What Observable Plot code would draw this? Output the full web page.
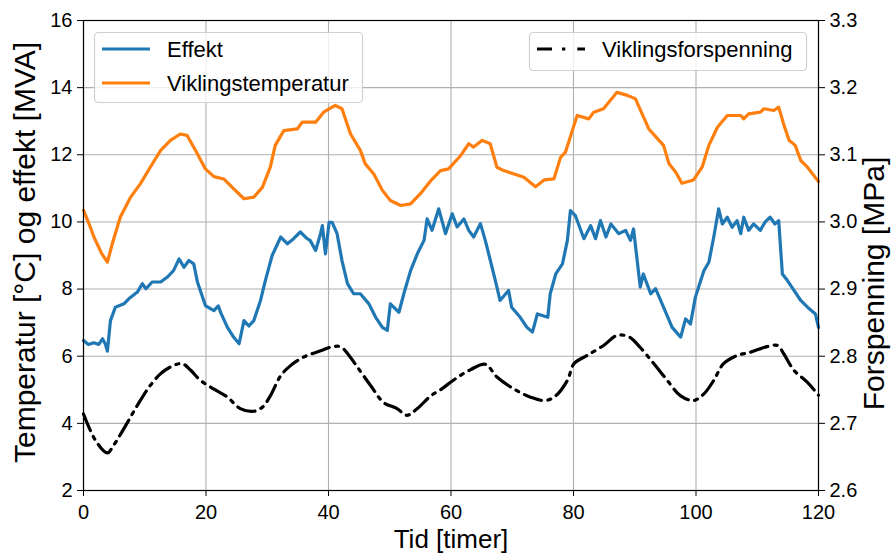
<!DOCTYPE html>
<html>
<head>
<meta charset="utf-8">
<script src="https://cdn.jsdelivr.net/npm/d3@7"></script>
<script src="https://cdn.jsdelivr.net/npm/@observablehq/plot@0.6"></script>
<style>
  html, body { margin: 0; padding: 0; background: #fff; }
  svg { display: block; }
</style>
</head>
<body>
<div id="chart"></div>
<script>
// ---------- data ----------
const seriesNames = ["Effekt", "Viklingstemperatur", "Viklingsforspenning"];
const seriesColors = ["#1f77b4", "#ff7f0e", "#000000"];

const xTicks = [0, 20, 40, 60, 80, 100, 120];
const yTicksLeft = [2, 4, 6, 8, 10, 12, 14, 16];
const yTicksRight = [2.6, 2.7, 2.8, 2.9, 3.0, 3.1, 3.2, 3.3];

const xLabel = "Tid [timer]";
const yLabelLeft = "Temperatur [°C] og effekt [MVA]";
const yLabelRight = "Forspenning [MPa]";

const effektHours = [0,0.8,1.7,2.5,3.1,3.6,3.9,4.4,5.2,6.6,7.4,8.8,9.6,10.2,11.2,12.6,13.7,14.7,15.6,16.4,17.2,18.0,18.6,19.9,21.3,22.0,22.4,23.5,24.5,25.4,26.2,27.0,27.8,28.9,29.7,30.8,32.2,33.3,34.3,35.4,36.5,37.0,37.6,37.9,38.7,39.0,39.5,40.1,40.6,41.4,42.2,43.1,44.1,45.2,46.6,47.7,48.8,49.6,50.1,51.5,52.3,53.4,54.5,55.6,56.1,56.9,58.0,59.1,60.2,61.0,62.1,62.9,63.7,64.8,65.6,66.7,67.5,68.0,69.4,69.9,71.3,72.4,73.3,74.1,75.8,76.2,77.1,78.2,79.0,79.5,80.3,81.7,82.8,83.6,84.4,85.3,86.1,87.4,88.5,89.3,89.8,90.9,91.4,92.6,93.4,94.7,96.1,97.5,98.3,99.1,99.9,101.3,102.1,102.9,103.7,104.3,105.1,105.9,106.7,107.3,107.8,108.6,109.4,110.5,111.3,112.1,112.9,113.5,114.1,114.9,116.0,117.1,118.2,119.5,120];
const effektValues = [6.47,6.35,6.4,6.35,6.52,6.35,6.15,7.06,7.46,7.56,7.71,7.91,8.16,8.01,8.21,8.21,8.36,8.55,8.9,8.65,8.85,8.75,8.21,7.51,7.36,7.5,7.3,6.86,6.57,6.37,7.06,6.9,7.06,7.66,8.26,9.0,9.55,9.35,9.5,9.7,9.5,9.45,9.25,9.15,9.65,9.89,9.05,9.99,9.99,9.65,8.85,8.16,7.86,7.86,7.56,7.16,6.86,6.77,7.56,7.31,7.86,8.55,9.05,9.45,10.09,9.75,10.39,9.65,10.24,9.85,10.09,9.75,9.55,9.95,9.45,8.65,8.06,7.66,7.96,7.46,7.16,6.86,6.72,7.26,7.16,7.86,8.45,8.75,9.45,10.34,10.19,9.5,9.89,9.5,10.04,9.55,9.94,9.65,9.75,9.45,9.79,8.06,8.45,7.86,8.01,7.46,6.86,6.57,7.11,6.96,7.76,8.55,8.8,9.55,10.39,9.94,10.14,9.84,10.04,9.65,10.14,9.75,9.94,9.75,10.0,10.14,9.94,10.04,8.45,8.26,7.96,7.66,7.46,7.26,6.86];

const tempHours = [0,1.0,1.7,3.0,3.9,4.7,6.0,7.7,9.3,10.9,12.6,14.2,15.8,16.9,18.3,19.9,21.3,22.9,24.5,26.2,27.8,29.2,30.5,31.3,32.7,34.9,35.7,37.9,39.2,41.1,42.2,43.6,45.2,46.0,47.4,48.8,50.1,51.8,53.4,55.0,56.7,58.3,59.6,61.6,62.9,63.7,65.1,66.4,67.5,68.6,70.3,71.9,73.8,75.2,76.8,77.9,78.7,79.8,80.6,82.5,83.3,84.9,87.1,88.8,90.1,91.2,92.3,93.7,94.7,95.6,96.7,97.7,99.6,101.0,102.1,103.5,105.1,107.3,107.8,108.6,110.5,111.1,112.7,113.5,114.3,115.2,116.2,117.1,118.2,120];
const tempValues = [10.35,9.9,9.55,9.05,8.8,9.35,10.14,10.74,11.14,11.63,12.13,12.43,12.62,12.58,12.13,11.58,11.35,11.28,10.99,10.69,10.74,11.03,11.63,12.28,12.72,12.77,12.97,12.97,13.27,13.47,13.37,12.62,12.13,11.73,11.43,10.94,10.64,10.49,10.54,10.84,11.23,11.53,11.58,11.98,12.33,12.23,12.43,12.33,11.63,11.53,11.43,11.33,11.05,11.25,11.28,11.93,12.08,12.72,13.17,13.07,13.27,13.37,13.86,13.77,13.67,13.22,12.77,12.48,12.28,11.73,11.48,11.15,11.25,11.63,12.28,12.82,13.17,13.17,13.07,13.22,13.27,13.37,13.32,13.42,12.92,12.43,12.28,11.83,11.63,11.2];

const spenningHours = [0,2.0,3.9,4.9,6.9,8.8,10.7,12.6,14.2,16.1,17.5,19.1,21.3,23.5,25.6,27.8,29.2,30.5,32.2,33.8,36.0,38.7,40.6,42.0,43.1,44.7,46.9,49.0,51.2,52.8,54.5,56.7,58.3,60.5,63.2,65.6,67.5,70.3,73.0,75.4,77.1,79.0,80.1,82.2,84.9,87.1,89.0,90.9,93.1,95.3,97.5,99.6,101.3,102.9,104.5,106.7,108.9,111.1,113.3,114.3,116.0,118.2,120];
const spenningValues = [2.714,2.674,2.656,2.667,2.697,2.727,2.754,2.774,2.784,2.789,2.779,2.764,2.751,2.739,2.722,2.718,2.724,2.741,2.771,2.786,2.799,2.808,2.814,2.814,2.804,2.784,2.756,2.731,2.722,2.712,2.722,2.741,2.750,2.765,2.780,2.788,2.769,2.751,2.739,2.734,2.741,2.764,2.789,2.801,2.816,2.831,2.829,2.813,2.789,2.764,2.741,2.734,2.744,2.764,2.789,2.801,2.806,2.813,2.816,2.804,2.779,2.761,2.742];

// ---------- build ----------
const effekt = effektHours.map((h, i) => ({h, v: effektValues[i]}));
const temp = tempHours.map((h, i) => ({h, v: tempValues[i]}));
const spenning = spenningHours.map((h, i) => ({h, v: spenningValues[i]}));

// right axis (2.6..3.3) mapped onto left axis (2..16)
const rightToLeft = v => 2 + (v - 2.6) * 20;
const leftToRight = v => 2.6 + (v - 2) / 20;

const W = 893, H = 556;
const mL = 83, mR = 75, mT = 20, mB = 66;
const FONT = "'Liberation Sans', Arial, sans-serif";

const svg = Plot.plot({
  width: W, height: H,
  marginLeft: mL, marginRight: mR, marginTop: mT, marginBottom: mB,
  style: {fontFamily: FONT, fontSize: "20px", background: "#fff", color: "#000", overflow: "visible"},
  x: {domain: [0, 120]},
  y: {domain: [2, 16]},
  marks: [
    Plot.gridX({ticks: xTicks, stroke: "#b0b0b0", strokeOpacity: 1, strokeWidth: 1.1}),
    Plot.gridY({ticks: yTicksLeft, stroke: "#b0b0b0", strokeOpacity: 1, strokeWidth: 1.1}),
    Plot.line(effekt, {x: "h", y: "v", stroke: seriesColors[0], strokeWidth: 3.2, strokeLinejoin: "round"}),
    Plot.line(temp, {x: "h", y: "v", stroke: seriesColors[1], strokeWidth: 3.2, strokeLinejoin: "round"}),
    Plot.line(spenning, {x: "h", y: d => rightToLeft(d.v), stroke: seriesColors[2], strokeWidth: 3.2, strokeDasharray: "18,6.5,3,6.5", curve: "catmull-rom"}),
    Plot.frame({stroke: "#000", strokeWidth: 1.2}),
    Plot.axisX({ticks: xTicks, tickSize: 6, tickPadding: 8, label: null, tickFormat: d => String(d), fontSize: 20}),
    Plot.axisY({ticks: yTicksLeft, anchor: "left", tickSize: 6, tickPadding: 5, label: null, tickFormat: d => String(d), fontSize: 20}),
    Plot.axisY({ticks: yTicksRight.map(rightToLeft), anchor: "right", tickSize: 6, tickPadding: 5, label: null, tickFormat: d => leftToRight(d).toFixed(1), fontSize: 20}),
    Plot.text([xLabel], {frameAnchor: "bottom", textAnchor: "middle", dy: 57, fontSize: 26, fill: "#000"}),
    Plot.text([yLabelLeft], {frameAnchor: "left", textAnchor: "middle", rotate: -90, dx: -58, dy: -3, fontSize: 30, fill: "#000"}),
    Plot.text([yLabelRight], {frameAnchor: "right", textAnchor: "middle", rotate: -90, dx: 56, dy: 28, fontSize: 30, fill: "#000"})
  ]
});

// ---------- legends ----------
const s = d3.select(svg);
function legendBox(x, y, w, h) {
  s.append("rect").attr("x", x).attr("y", y).attr("width", w).attr("height", h)
    .attr("rx", 4).attr("fill", "#fff").attr("fill-opacity", 0.8)
    .attr("stroke", "#d0d0d0").attr("stroke-width", 1.2);
}
function legendItem(x, y, color, label, dash) {
  const ln = s.append("line").attr("x1", x).attr("x2", x + 48).attr("y1", y).attr("y2", y)
    .attr("stroke", color).attr("stroke-width", 3.2);
  if (dash) ln.attr("stroke-dasharray", dash);
  s.append("text").attr("x", x + 65).attr("y", y).attr("dy", "0.35em")
    .attr("text-anchor", "start")
    .attr("font-size", 22).attr("fill", "#000")
    .attr("font-family", FONT).text(label);
}
legendBox(94.5, 32.5, 268, 70);
legendItem(102, 49, seriesColors[0], seriesNames[0]);
legendItem(102, 83, seriesColors[1], seriesNames[1]);
legendBox(529.5, 32.5, 277, 38);
legendItem(537, 49, seriesColors[2], seriesNames[2], "15,10,3.3,12");

document.getElementById("chart").appendChild(svg);
</script>
</body>
</html>
